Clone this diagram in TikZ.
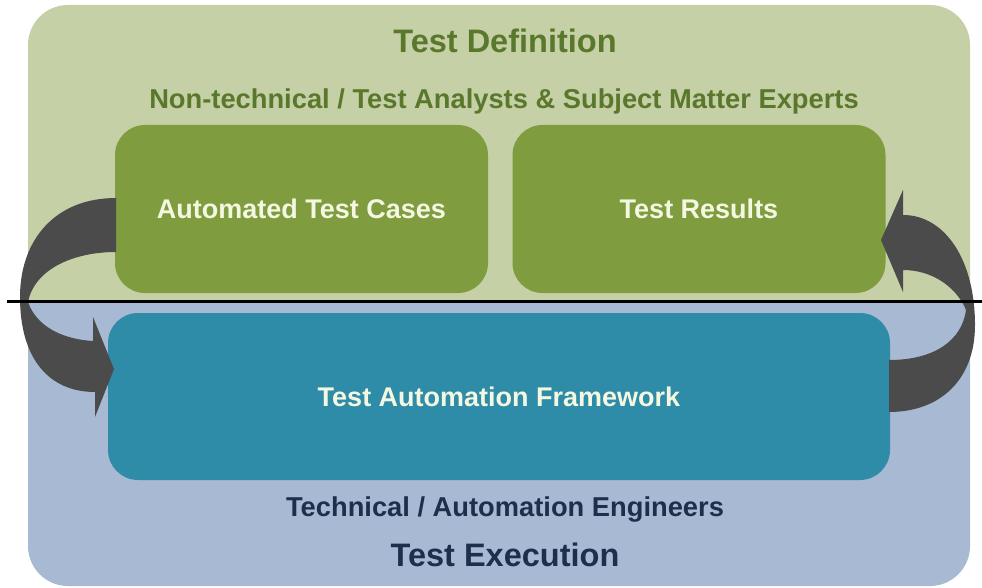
\documentclass[tikz,border=0pt]{standalone}
\usepackage{fontspec}
\setmainfont{Liberation Sans}
\definecolor{panelgreen}{HTML}{C5D0A6}
\definecolor{panelblue}{HTML}{A8BAD3}
\definecolor{boxgreen}{HTML}{7F9C3F}
\definecolor{boxteal}{HTML}{2F8CA8}
\definecolor{arrowgrey}{HTML}{4B4B4B}
\definecolor{titlegreen}{HTML}{5A782B}
\definecolor{titlenavy}{HTML}{1E2F4E}
\definecolor{boxtext}{HTML}{F4F7E1}
\tikzset{
  gbox/.style={fill=boxgreen, rounded corners=30pt, minimum width=373pt, minimum height=168pt, inner sep=0pt,
    text=boxtext, font=\bfseries\fontsize{27}{32}\selectfont},
  tbox/.style={fill=boxteal, rounded corners=30pt, minimum width=782pt, minimum height=167pt, inner sep=0pt,
    text=boxtext, font=\bfseries\fontsize{27}{32}\selectfont},
  bigtitle/.style={font=\bfseries\fontsize{32.5}{36}\selectfont, inner sep=0pt},
  subtitle/.style={font=\bfseries\fontsize{27.3}{32}\selectfont, inner sep=0pt},
  bandarrow/.style={fill=arrowgrey},
}
\begin{document}
\begin{tikzpicture}[x=1pt,y=-1pt]
\useasboundingbox (0,0) rectangle (982,588);
\fill[white] (0,0) rectangle (982,588);
% panels
\fill[panelgreen] (28,301) {[rounded corners=40pt] -- (28,5) -- (970,5)} -- (970,301) -- cycle;
\fill[panelblue] (970,301) {[rounded corners=40pt] -- (970,586) -- (28,586)} -- (28,301) -- cycle;
% titles
\node[bigtitle, text=titlegreen] (tdef) at (505,41) {Test Definition};
\node[subtitle, text=titlegreen] (ntech) at (504,101) {Non-technical / Test Analysts \& Subject Matter Experts};
\node[subtitle, text=titlenavy] (tech) at (505,509) {Technical / Automation Engineers};
\node[bigtitle, text=titlenavy] (texec) at (505,555) {Test Execution};
% boxes
\node[gbox] (atc) at (301.5,209) {Automated Test Cases};
\node[gbox] (tr) at (699,209) {Test Results};
\node[tbox] (taf) at (499,396.5) {Test Automation Framework};
% left curved arrow
\fill[bandarrow] (116,198) .. controls (55,198) and (20,240) .. (20,297)
  .. controls (20,360) and (50,392) .. (95,392) -- (95,417) -- (114,369) -- (93,317) -- (93,341)
  .. controls (60,339) and (36,325) .. (28,302)
  .. controls (35,268) and (75,252) .. (116,252) -- cycle;
% right curved arrow
\fill[bandarrow] (889,412) .. controls (940,412) and (975,380) .. (975,325)
  .. controls (975,260) and (945,215) .. (903,215) -- (903,190) -- (881,240) -- (903,292) -- (903,270)
  .. controls (935,270) and (958,290) .. (966,310)
  .. controls (962,340) and (935,360) .. (889,360) -- cycle;
% dividing line
\coordinate (lineL) at (7,301);
\coordinate (lineR) at (982,301);
\draw[line width=3pt, black] (lineL) -- (lineR);
\end{tikzpicture}
\end{document}
